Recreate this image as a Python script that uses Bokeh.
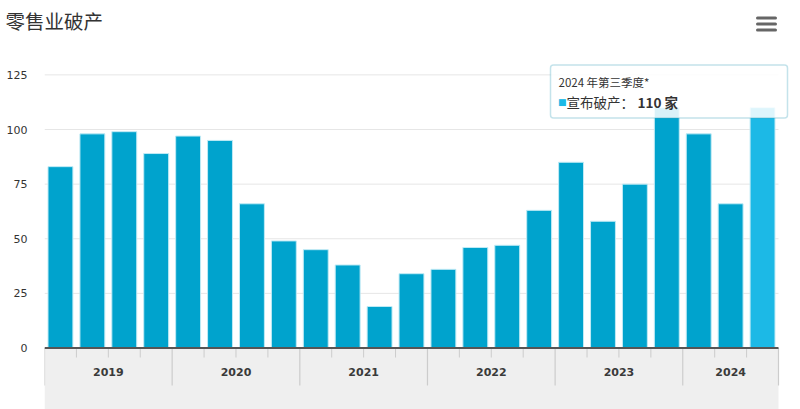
from bokeh.plotting import figure
from bokeh.layouts import column, row
from bokeh.models import Range1d, FixedTicker, Label, BoxAnnotation, ColumnDataSource
from bokeh.core.properties import value
from bokeh.embed import file_html
from bokeh.resources import INLINE

# ---------------- data ----------------
years = ["2019", "2020", "2021", "2022", "2023", "2024"]
quarters_per_year = [4, 4, 4, 4, 4, 3]
bankruptcies = [83, 98, 99, 89, 97, 95, 66, 49,
                45, 38, 19, 34, 36, 46, 47, 63,
                85, 58, 75, 110, 98, 66, 110]
y_ticks = [0, 25, 50, 75, 100, 125]
title_text = "零售业破产"
tip_title = "2024 年第三季度*"
tip_series = "宣布破产："
tip_value = "110 家"
highlight_index = 22

BAR = "#00a3cd"
BAR_HI = "#1cb9e6"

# ---------------- header (title + menu icon) ----------------
W, H = 800, 409
HEAD = 40
head = figure(width=W, height=HEAD, output_backend="svg", toolbar_location=None,
              x_range=Range1d(0, W), y_range=Range1d(HEAD, 0),
              x_axis_location=None, y_axis_location=None,
              min_border_left=0, min_border_right=0, min_border_top=0,
              min_border_bottom=0)
head.outline_line_color = None
head.grid.visible = False
head.text(x=[5], y=[20], text=[title_text], text_font=value("Noto Sans CJK SC"),
          text_font_size="19.5px", text_color="#333333", text_baseline="middle",
          text_align="left")
head.segment(x0=[757] * 3, x1=[775] * 3, y0=[17.5, 23.5, 29.5], y1=[17.5, 23.5, 29.5],
             line_color="#666666", line_width=3, line_cap="round")

# ---------------- geometry helpers (canvas px -> data) ----------------
LEFT = 44
n = len(bankruptcies)
PX_PER_X = (778 - LEFT) / n
Y0_PX = 347.5
PX_PER_Y = 2.185


def px(xp):
    return (xp - LEFT) / PX_PER_X - 0.5


def py(yp):
    return (Y0_PX - yp) / PX_PER_Y


x_start, x_end = -0.5, px(W)
y_start, y_end = py(H), py(HEAD)

p = figure(width=W, height=H - HEAD, output_backend="svg", toolbar_location=None,
           x_range=Range1d(x_start, x_end), y_range=Range1d(y_start, y_end),
           x_axis_location=None,
           min_border_left=LEFT, min_border_right=0, min_border_top=0,
           min_border_bottom=0)
p.outline_line_color = None
p.background_fill_color = "white"
p.border_fill_color = "white"
p.xgrid.visible = False
p.ygrid.visible = False

ya = p.yaxis[0]
ya.ticker = FixedTicker(ticks=y_ticks)
ya.axis_line_color = None
ya.major_tick_line_color = None
ya.minor_tick_line_color = None
ya.major_tick_out = 0
ya.major_tick_in = 0
ya.major_label_standoff = 17
ya.major_label_text_font = "DejaVu Sans"
ya.major_label_text_font_size = "11px"
ya.major_label_text_color = "#333333"

# grid lines
grid_vals = [t for t in y_ticks if t > 0]
p.segment(x0=[-0.5] * len(grid_vals), x1=[n - 0.5] * len(grid_vals),
          y0=grid_vals, y1=grid_vals, line_color="#e6e6e6", line_width=1)

# grey category band
p.quad(left=[-0.5], right=[n - 0.5], bottom=[y_start], top=[0],
       fill_color="#efefef", line_color=None)

# bars
idx = list(range(n))
colors = [BAR_HI if i == highlight_index else BAR for i in idx]
src = ColumnDataSource(dict(x=idx, top=bankruptcies, color=colors))
p.vbar(x="x", top="top", width=0.78, bottom=0, source=src,
       fill_color="color", line_color="#bfeaf5", line_width=1)

# year separators and quarter ticks
bounds = [-0.5]
for q in quarters_per_year:
    bounds.append(bounds[-1] + q)
p.segment(x0=bounds, x1=bounds, y0=[0] * len(bounds), y1=[py(385)] * len(bounds),
          line_color="#cccccc", line_width=1.2)
minor = []
for i, q in enumerate(quarters_per_year):
    for k in range(1, q):
        minor.append(bounds[i] + k)
p.segment(x0=minor, x1=minor, y0=[0] * len(minor), y1=[py(357)] * len(minor),
          line_color="#cccccc", line_width=1)

# x axis line
p.segment(x0=[-0.5], x1=[n - 0.5], y0=[0], y1=[0], line_color="#555555", line_width=2)

# year labels
centers = [(bounds[i] + bounds[i + 1]) / 2 for i in range(len(years))]
p.text(x=centers, y=[py(371)] * len(years), text=years,
       text_font=value("DejaVu Sans"), text_font_size="11px", text_font_style="bold",
       text_color="#3a3a3a", text_align="center", text_baseline="middle")

# tooltip
p.add_layout(BoxAnnotation(left=px(550), right=px(787), top=py(64.5), bottom=py(117.5),
                           fill_color="white", fill_alpha=0.85,
                           line_color="#3ca3bd", line_width=1.5, border_radius=3))
p.add_layout(Label(x=px(558), y=py(81), text=tip_title, text_font="Noto Sans CJK SC",
                   text_font_size="11.5px", text_color="#333333",
                   text_baseline="middle", text_align="left"))
p.add_layout(Label(x=px(557.5), y=py(101), text="■", text_font="DejaVu Sans",
                   text_font_size="9px", text_color=BAR_HI,
                   text_baseline="middle", text_align="left"))
p.add_layout(Label(x=px(566), y=py(101), text=tip_series, text_font="Noto Sans CJK SC",
                   text_font_size="13.5px", text_color="#333333",
                   text_baseline="middle", text_align="left"))
p.add_layout(Label(x=px(637), y=py(101), text=tip_value, text_font="Noto Sans CJK SC",
                   text_font_size="13.5px", text_color="#333333", text_font_style="bold",
                   text_baseline="middle", text_align="left"))

layout = column(row(head, spacing=0), p, spacing=0)
open("out.html", "w").write(file_html(layout, INLINE))
